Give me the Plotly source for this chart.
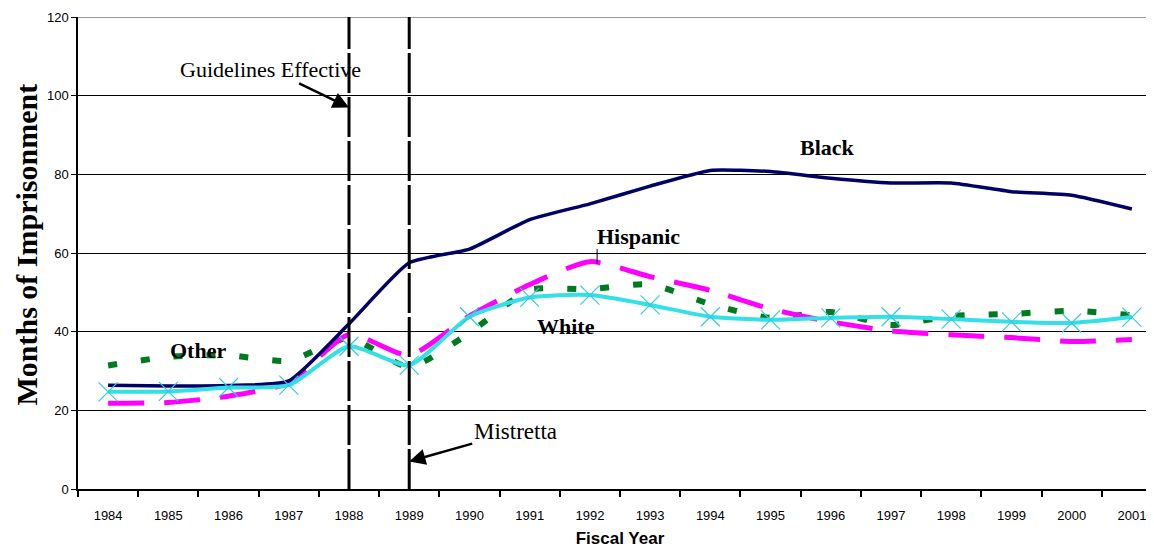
import plotly.graph_objects as go

years = list(range(1984, 2002))
year_labels = [str(y) for y in years]

black = [26.4, 26.2, 26.3, 27.5, 42.0, 57.5, 61.0, 68.5, 72.5, 77.0, 81.0, 80.7, 79.0, 77.8, 77.8, 75.6, 74.7, 71.2]
hispanic = [21.8, 22.0, 23.6, 27.0, 39.3, 34.0, 44.0, 52.0, 57.8, 54.0, 50.5, 45.8, 42.5, 40.2, 39.2, 38.5, 37.5, 38.0]
other = [31.4, 33.6, 34.0, 32.6, 38.4, 31.0, 39.7, 50.6, 50.8, 52.0, 47.0, 43.5, 45.0, 41.7, 44.0, 44.5, 45.3, 44.2]
white = [24.7, 24.8, 25.8, 26.4, 36.3, 31.5, 43.8, 48.7, 49.3, 46.8, 43.8, 43.0, 43.5, 43.8, 43.2, 42.5, 42.2, 43.7]

policy_years = [1988, 1989]
y_ticks = [0, 20, 40, 60, 80, 100, 120]

fig = go.Figure()

fig.add_trace(go.Scatter(x=years, y=other, mode="lines", name="Other",
                         line=dict(color="#007A1E", width=6, dash="9px,24px", shape="spline", smoothing=0.6)))
fig.add_trace(go.Scatter(x=years, y=hispanic, mode="lines", name="Hispanic",
                         line=dict(color="#FF00FF", width=5, dash="36px,20px", shape="spline", smoothing=0.6)))
fig.add_trace(go.Scatter(x=years, y=black, mode="lines", name="Black",
                         line=dict(color="#000066", width=3.5, shape="spline", smoothing=0.5)))
fig.add_trace(go.Scatter(x=years, y=white, mode="lines+markers", name="White",
                         line=dict(color="#33E0E6", width=4, shape="spline", smoothing=0.6),
                         marker=dict(symbol="x-thin", size=19,
                                     line=dict(color="#33CCDD", width=1.2))))

for py in policy_years:
    fig.add_shape(type="line", x0=py, x1=py, y0=0, y1=120, xref="x", yref="y",
                  line=dict(color="black", width=3, dash="40px,4px"), layer="above")

# lighter top border line
fig.add_shape(type="line", xref="paper", x0=0, x1=1, yref="y", y0=120, y1=120,
              line=dict(color="#9A9A9A", width=2), layer="below")

serif = "Liberation Serif"

# series labels
lab = dict(font=dict(family=serif, size=22, color="black"), showarrow=False)
fig.add_annotation(x=1995.95, y=86.7, text="<b>Black</b>", **lab)
fig.add_annotation(x=1992.8, y=64.3, text="<b>Hispanic</b>", **lab)
fig.add_annotation(x=1991.6, y=41.4, text="<b>White</b>", **lab)
fig.add_annotation(x=1985.5, y=35.1, text="<b>Other</b>", **lab)
fig.add_shape(type="line", x0=1992.12, x1=1992.12, y0=57.3, y1=61.0, xref="x", yref="y",
              line=dict(color="black", width=1))

# event annotations
fig.add_annotation(x=1988, y=97, ax=-79, ay=-38, text="Guidelines Effective",
                   font=dict(family=serif, size=22, color="black"),
                   showarrow=True, arrowhead=2, arrowsize=1.3, arrowwidth=2.5,
                   arrowcolor="black", standoff=0)
fig.add_annotation(x=1989, y=7, ax=106, ay=-30, text="Mistretta",
                   font=dict(family=serif, size=23, color="black"),
                   showarrow=True, arrowhead=2, arrowsize=1.3, arrowwidth=2.5,
                   arrowcolor="black", standoff=0)

# y-axis title
fig.add_annotation(xref="paper", yref="paper", x=-0.0475, y=0.517, xanchor="center", yanchor="middle",
                   text="<b>Months of Imprisonment</b>", textangle=-90, showarrow=False,
                   font=dict(family=serif, size=30, color="black"))

fig.update_layout(
    width=1154, height=554,
    margin=dict(l=70, r=0, t=9, b=73),
    paper_bgcolor="white", plot_bgcolor="white",
    showlegend=False,
    xaxis=dict(range=[1983.5, 2001.5], tickvals=years, ticktext=year_labels,
               ticks="", showgrid=False, zeroline=False,
               showline=True, linecolor="black", linewidth=1.5,
               ticklabelstandoff=14,
               tickfont=dict(family="Liberation Sans", size=13, color="black"),
               minor=dict(tick0=1983.5, dtick=1, ticks="outside", ticklen=6,
                          tickcolor="black", tickwidth=1.5, showgrid=False),
               title=dict(text="<b>Fiscal Year</b>", standoff=10,
                          font=dict(family="Liberation Sans", size=17, color="black"))),
    yaxis=dict(range=[0, 120], tickvals=[0, 20, 40, 60, 80, 100], ticks="outside", ticklen=5,
               tickcolor="black", showgrid=True, gridcolor="black", gridwidth=1,
               zeroline=False, showline=True, linecolor="black", linewidth=1.5,
               tickfont=dict(family="Liberation Sans", size=13, color="black")),
)
# keep the 120 label as a tick too (gridline drawn lighter by the shape above)
fig.update_yaxes(tickvals=y_ticks)

fig.write_html("out.html")
